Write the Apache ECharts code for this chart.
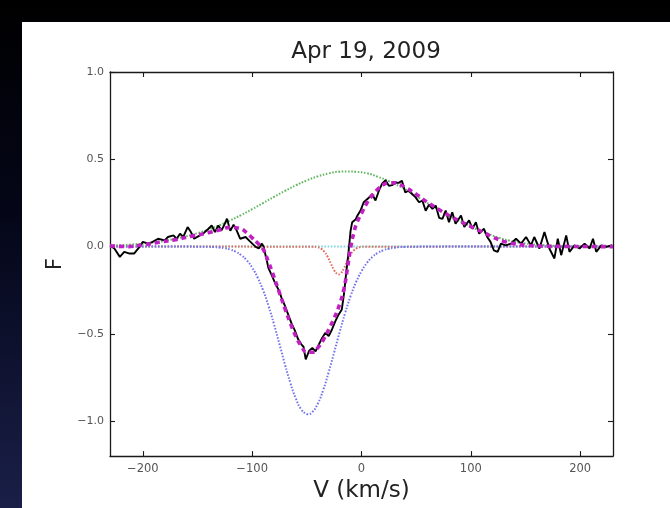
<!DOCTYPE html>
<html>
<head>
<meta charset="utf-8">
<script src="https://cdn.jsdelivr.net/npm/echarts@6/dist/echarts.min.js"></script>
<style>
html,body{margin:0;padding:0;width:670px;height:508px;overflow:hidden;
background:linear-gradient(to bottom,#000000 0%,#05071a 45%,#1a1f48 100%);}
#panel{position:absolute;left:22px;top:22px;width:648px;height:486px;background:#ffffff;}
#chart{position:absolute;left:0;top:0;width:670px;height:508px;}
</style>
</head>
<body>
<div id="panel"></div>
<div id="chart"></div>
<script>
// ---- data ----
const titleText = "Apr 19, 2009";
const xTicks = [-200, -100, 0, 100, 200];
const yTicks = [-1.0, -0.5, 0.0, 0.5, 1.0];

// observed profile (black): [V, F]
const observed = [
[-230,0.007],[-226,-0.011],[-221,-0.059],[-217,-0.03],[-212,-0.04],[-208,-0.04],[-203,-0.002],
[-200,0.027],[-195,0.017],[-191,0.027],[-186,0.045],[-180,0.036],[-177,0.055],[-172,0.064],
[-169,0.045],[-166,0.074],[-163,0.055],[-159,0.112],[-156,0.083],[-153,0.045],[-149,0.06],
[-145,0.074],[-140,0.102],[-137,0.121],[-134,0.083],[-131,0.121],[-128,0.093],[-125,0.131],
[-123,0.16],[-120,0.09],[-117,0.125],[-114,0.09],[-111,0.045],[-106,0.055],[-102,0.03],
[-97,0.0],[-94,-0.011],[-91,0.017],[-89.5,-0.002],[-87,-0.07],[-85,-0.125],[-82,-0.165],
[-79,-0.21],[-76,-0.245],[-73,-0.295],[-70,-0.34],[-67,-0.39],[-64,-0.44],[-61,-0.48],
[-58,-0.53],[-55,-0.56],[-53,-0.575],[-51,-0.646],[-48,-0.598],[-45,-0.58],[-42,-0.6],
[-39,-0.561],[-36,-0.523],[-33,-0.494],[-30,-0.513],[-27,-0.475],[-24,-0.428],[-21,-0.39],
[-18,-0.36],[-16,-0.27],[-14,-0.15],[-12,-0.04],[-10,0.09],[-8.5,0.14],[-5.5,0.155],
[-4,0.175],[-1,0.205],[2,0.254],[6.7,0.28],[9.8,0.30],[12.8,0.264],[15.9,0.32],[19,0.362],
[22,0.38],[25,0.348],[28,0.352],[31,0.367],[34,0.365],[37,0.377],[40,0.31],[43,0.32],
[46.5,0.30],[49.5,0.282],[52.6,0.254],[55.7,0.263],[58.7,0.205],[61.7,0.24],[64.9,0.216],
[67.9,0.235],[71,0.165],[74,0.159],[77,0.206],[80,0.14],[83,0.197],[86,0.131],[91,0.178],
[94,0.112],[98.4,0.15],[101.5,0.102],[104.6,0.14],[107.6,0.074],[112,0.102],[115,0.055],
[118,0.027],[121,-0.021],[124.5,-0.03],[127.5,0.017],[132,0.007],[136.7,0.017],[141.3,0.045],
[145.9,0.017],[150.5,0.055],[155,0.007],[158,0.055],[162.7,-0.011],[167.3,0.083],[171.8,-0.011],
[176.4,-0.068],[179.5,0.045],[182.6,-0.049],[187.2,0.064],[190.2,-0.03],[194.8,0.007],
[199.4,-0.011],[204,0.017],[208.6,-0.011],[211.7,0.045],[214.7,-0.03],[219.3,0.007],
[223.9,-0.002],[228.4,0.007],[230,0.0]
];

// total fit (magenta dashed)
const fitTotal = [
[-230,0.005],[-215,0.0],[-200,0.01],[-185,0.025],[-170,0.04],[-155,0.06],[-140,0.08],
[-130,0.095],[-120,0.11],[-112,0.105],[-105,0.08],[-100,0.05],[-95,0.02],[-90,-0.015],
[-85,-0.09],[-80,-0.175],[-75,-0.265],[-70,-0.355],[-65,-0.44],[-60,-0.515],[-55,-0.57],
[-50,-0.605],[-45,-0.605],[-40,-0.58],[-35,-0.535],[-30,-0.475],[-25,-0.41],[-20,-0.33],
[-16,-0.24],[-13,-0.13],[-10,-0.01],[-7,0.08],[-4,0.14],[0,0.19],[5,0.25],[10,0.295],
[15,0.33],[20,0.355],[25,0.365],[30,0.365],[35,0.355],[40,0.34],[50,0.3],[60,0.255],
[70,0.215],[80,0.178],[90,0.145],[100,0.115],[110,0.085],[120,0.055],[130,0.03],
[140,0.016],[150,0.008],[165,0.003],[185,0.001],[230,0.0]
];

// broad emission component (green dotted)
const emission = [
[-230,0.006],[-210,0.012],[-190,0.024],[-170,0.045],[-150,0.077],[-130,0.122],[-120,0.15],
[-110,0.181],[-100,0.214],[-90,0.249],[-80,0.285],[-70,0.319],[-60,0.351],[-50,0.379],
[-40,0.402],[-30,0.419],[-20,0.429],[-13,0.43],[-5,0.428],[5,0.42],[15,0.40],[25,0.375],
[35,0.345],[45,0.31],[55,0.27],[65,0.232],[75,0.195],[85,0.16],[95,0.13],[105,0.10],
[115,0.075],[125,0.052],[135,0.035],[150,0.018],[170,0.007],[190,0.003],[210,0.001],[230,0.0]
];

// broad absorption component (blue dotted)
const absorption = [
[-230,0.0],[-180,0.0],[-150,-0.0003],[-140,-0.0013],[-135,-0.0026],[-130,-0.005],[-125,-0.0094],
[-120,-0.017],[-115,-0.0295],[-110,-0.049],[-105,-0.078],[-100,-0.12],[-95,-0.177],[-90,-0.25],
[-85,-0.34],[-80,-0.445],[-75,-0.559],[-70,-0.675],[-65,-0.782],[-60,-0.871],[-55,-0.933],
[-50,-0.959],[-49,-0.96],[-45,-0.948],[-40,-0.90],[-35,-0.821],[-30,-0.719],[-25,-0.606],
[-20,-0.49],[-15,-0.381],[-10,-0.284],[-5,-0.204],[0,-0.141],[5,-0.093],[10,-0.059],
[15,-0.036],[20,-0.021],[25,-0.012],[30,-0.0065],[35,-0.0034],[40,-0.0017],[60,0.0],[230,0.0]
];

// narrow absorption component (red dotted)
const narrowAbs = [
[-230,0.0],[-45,-0.0004],[-40,-0.004],[-37,-0.0117],[-34,-0.0285],[-31,-0.0577],[-28,-0.097],
[-25,-0.136],[-22,-0.158],[-21,-0.16],[-19,-0.154],[-16,-0.124],[-13,-0.083],[-10,-0.0466],
[-7,-0.0217],[-4,-0.0084],[-1,-0.0027],[3,-0.0004],[230,0.0]
];

// zero-level component (cyan dotted)
const zeroComp = [[-230,0.0],[230,0.0]];

// ---- chart ----
const font = 'DejaVu Sans';
const fmt = (v, d) => (v < 0 ? '\u2212' : '') + Math.abs(v).toFixed(d);
const chart = echarts.init(document.getElementById('chart'), null, {renderer:'canvas'});
const axisLineStyle = {color:'#1a1a1a', width:1.3};
const tickStyle = {color:'#1a1a1a', width:1.1};
const dotted = (c) => ({color:c, width:2, type:[1.6,1.6]});

chart.setOption({
  backgroundColor:'transparent',
  animation:false,
  title:{text:titleText, left:361, top:36, textAlign:'center',
    textStyle:{fontFamily:font, fontSize:23, fontWeight:'normal', color:'#222'}},
  grid:{left:110, right:57, top:72, bottom:49},
  xAxis:[{
    type:'value', min:-230, max:230, position:'bottom',
    name:'V (km/s)', nameLocation:'middle', nameGap:21,
    nameTextStyle:{fontFamily:font, fontSize:23, color:'#222'},
    axisLine:{show:true, onZero:false, lineStyle:axisLineStyle},
    axisTick:{show:true, inside:true, length:5, customValues:xTicks, lineStyle:tickStyle},
    axisLabel:{customValues:xTicks, formatter:v => fmt(v,0), fontFamily:font, fontSize:11.5, color:'#555', margin:7},
    splitLine:{show:false}
  },{
    type:'value', min:-230, max:230, position:'top',
    axisLine:{show:true, onZero:false, lineStyle:axisLineStyle},
    axisTick:{show:true, inside:true, length:5, customValues:xTicks, lineStyle:tickStyle},
    axisLabel:{show:false}, splitLine:{show:false}
  }],
  yAxis:[{
    type:'value', min:-1.2, max:1.0, position:'left',
    name:'F', nameLocation:'middle', nameGap:36, nameRotate:90,
    nameTextStyle:{fontFamily:font, fontSize:21, color:'#222'},
    axisLine:{show:true, onZero:false, lineStyle:axisLineStyle},
    axisTick:{show:true, inside:true, length:5, customValues:yTicks, lineStyle:tickStyle},
    axisLabel:{customValues:yTicks, formatter:v => fmt(v,1), fontFamily:font, fontSize:11, color:'#555', margin:6},
    splitLine:{show:false}
  },{
    type:'value', min:-1.2, max:1.0, position:'right',
    axisLine:{show:true, onZero:false, lineStyle:axisLineStyle},
    axisTick:{show:true, inside:true, length:5, customValues:yTicks, lineStyle:tickStyle},
    axisLabel:{show:false}, splitLine:{show:false}
  }],
  series:[
    {type:'line', data:zeroComp, showSymbol:false, lineStyle:dotted('#7fd6e0'), z:1},
    {type:'line', data:emission, showSymbol:false, smooth:true, lineStyle:dotted('#62b862'), z:2},
    {type:'line', data:narrowAbs, showSymbol:false, smooth:true, lineStyle:dotted('#e3705c'), z:3},
    {type:'line', data:absorption, showSymbol:false, smooth:true, lineStyle:dotted('#7474ec'), z:4},
    {type:'line', data:observed, showSymbol:false, lineStyle:{color:'#000', width:1.9}, z:5},
    {type:'line', data:fitTotal, showSymbol:false, smooth:true, lineStyle:{color:'#c21fc2', width:3.6, type:[5,4]}, z:6}
  ]
});
</script>
</body>
</html>
